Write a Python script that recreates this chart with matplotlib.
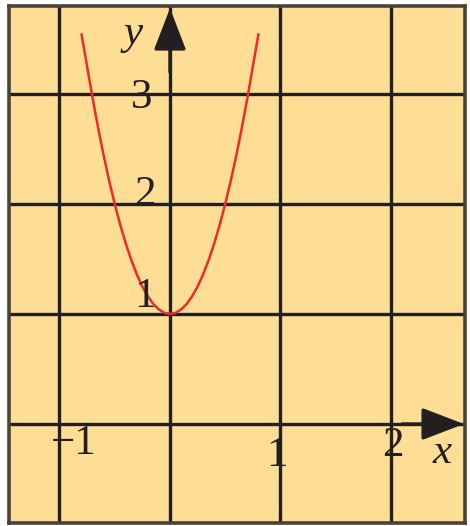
import matplotlib.pyplot as plt

# curve points
curve_x = [-0.8, -0.75, -0.7, -0.65, -0.6, -0.55, -0.5, -0.45, -0.4, -0.35,
           -0.3, -0.25, -0.2, -0.15, -0.1, -0.05, 0.0,
           0.05, 0.1, 0.15, 0.2, 0.25, 0.3, 0.35, 0.4,
           0.45, 0.5, 0.55, 0.6, 0.65, 0.7, 0.75, 0.8]
curve_y = [3.54, 3.25, 2.96, 2.69, 2.44, 2.21, 2.0, 1.81, 1.64, 1.49,
           1.36, 1.25, 1.16, 1.09, 1.04, 1.01, 1.0,
           1.01, 1.04, 1.09, 1.16, 1.25, 1.36, 1.49, 1.64,
           1.81, 2.0, 2.21, 2.44, 2.69, 2.96, 3.25, 3.54]

grid_x = [-1, 0, 1, 2]
grid_y = [0, 1, 2, 3]

# tick labels: (text, x, y)
x_labels = [("\u22121", -0.87, -0.18), ("1", 0.97, -0.29), ("2", 2.02, -0.2)]
y_labels = [("3", -0.26, 2.97), ("2", -0.23, 2.08), ("1", -0.23, 1.16)]

bg = "#FDDE94"
ink = "#231F20"
red = "#EE2A2A"

fig = plt.figure(figsize=(4.7, 5.26), dpi=100)
ax = fig.add_axes([9 / 470, 3 / 526, 456 / 470, 517 / 526])
ax.set_facecolor(bg)
ax.set_xlim(-1.457, 2.67)
ax.set_ylim(-0.9, 3.8)
ax.set_xticks([])
ax.set_yticks([])
for s in ax.spines.values():
    s.set_color("#4E4236")
    s.set_linewidth(2.6)

for gx in grid_x:
    ax.axvline(gx, color=ink, lw=2.4, zorder=1)
for gy in grid_y:
    ax.axhline(gy, color=ink, lw=2.4, zorder=1)

ax.plot(curve_x, curve_y, color=red, lw=1.8, zorder=3)

arrow = dict(arrowstyle="-|>,head_length=1.3,head_width=0.5",
             color=ink, lw=2.4, mutation_scale=20, shrinkA=0, shrinkB=0)
ax.annotate("", xy=(0, 3.78), xytext=(0, 3.2), arrowprops=arrow, zorder=4)
ax.annotate("", xy=(2.66, 0), xytext=(2.1, 0), arrowprops=arrow, zorder=4)

font = dict(family="Liberation Serif", fontsize=31, color=ink)
for t, x, y in x_labels + y_labels:
    ax.text(x, y, t, ha="center", va="center", zorder=5, **font)
ax.text(-0.33, 3.55, "y", ha="center", va="center", style="italic", zorder=5, **font)
ax.text(2.46, -0.26, "x", ha="center", va="center", style="italic", zorder=5, **font)

fig.savefig("out.png", dpi=100, facecolor="white")
